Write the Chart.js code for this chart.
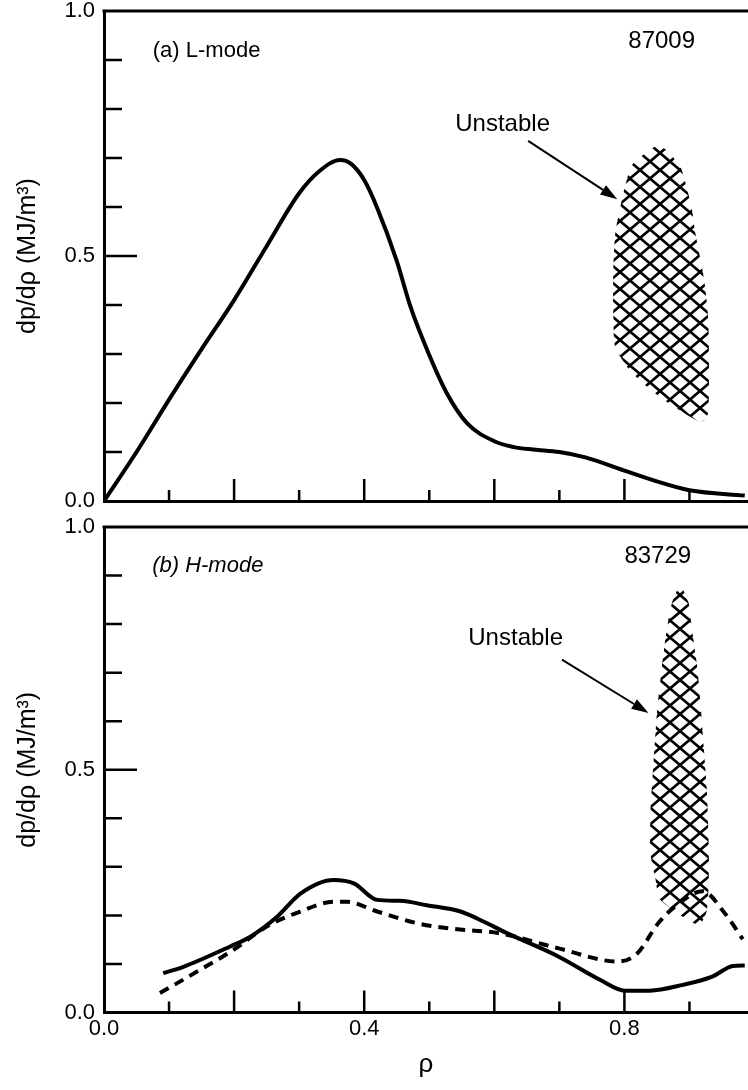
<!DOCTYPE html>
<html lang="en">
<head>
<meta charset="UTF-8">
<title>dp/drho profiles</title>
<script src="https://cdn.jsdelivr.net/npm/chart.js"></script>
<style>
  body { margin: 0; background: #fff; }
  #top { position: absolute; left: 0; top: 0; width: 748px; height: 510px; }
  #bot { position: absolute; left: 0; top: 510px; width: 748px; height: 580px; }
</style>
</head>
<body>
<div id="top"><canvas id="chartA"></canvas></div>
<div id="bot"><canvas id="chartB"></canvas></div>
<script>
// (a) L-mode, shot 87009
const rhoA = [0, 0.05, 0.10, 0.15, 0.20, 0.25, 0.30, 0.33, 0.363, 0.38, 0.40, 0.42, 0.45, 0.471, 0.499, 0.527, 0.558, 0.60, 0.63, 0.66, 0.70, 0.74, 0.80, 0.845, 0.90, 0.985];
const dpA  = [0, 0.10, 0.207, 0.31, 0.41, 0.52, 0.628, 0.672, 0.696, 0.688, 0.655, 0.598, 0.49, 0.397, 0.301, 0.22, 0.159, 0.122, 0.11, 0.105, 0.10, 0.089, 0.062, 0.042, 0.022, 0.011];

// unstable region (a)
const hatchRhoA = [0.85, 0.812, 0.796, 0.786, 0.783, 0.783, 0.786, 0.812, 0.855, 0.917, 0.929, 0.929, 0.922, 0.909, 0.904, 0.896, 0.886, 0.866];
const hatchDpA  = [0.727, 0.686, 0.614, 0.547, 0.471, 0.383, 0.314, 0.261, 0.212, 0.161, 0.18, 0.369, 0.457, 0.547, 0.594, 0.639, 0.682, 0.716];

// (b) H-mode, shot 83729 - solid
const rhoB = [0.091, 0.122, 0.194, 0.225, 0.266, 0.302, 0.353, 0.384, 0.42, 0.455, 0.496, 0.548, 0.584, 0.617, 0.699, 0.763, 0.801, 0.839, 0.89, 0.935, 0.967, 0.985];
const dpB  = [0.081, 0.094, 0.136, 0.156, 0.197, 0.245, 0.273, 0.266, 0.232, 0.23, 0.221, 0.208, 0.187, 0.165, 0.115, 0.067, 0.045, 0.045, 0.057, 0.074, 0.096, 0.097];

// (b) dashed
const rhoBd = [0.086, 0.148, 0.199, 0.25, 0.302, 0.353, 0.373, 0.42, 0.481, 0.532, 0.609, 0.699, 0.79, 0.82, 0.852, 0.884, 0.92, 0.954, 0.982];
const dpBd  = [0.04, 0.088, 0.129, 0.177, 0.208, 0.228, 0.228, 0.208, 0.184, 0.173, 0.163, 0.132, 0.105, 0.122, 0.184, 0.225, 0.25, 0.205, 0.151];

// unstable region (b)
const hatchRhoB = [0.886, 0.873, 0.865, 0.857, 0.85, 0.845, 0.84, 0.84, 0.848, 0.855, 0.914, 0.927, 0.93, 0.927, 0.922, 0.917, 0.912, 0.904, 0.899];
const hatchDpB  = [0.885, 0.843, 0.788, 0.705, 0.616, 0.52, 0.41, 0.328, 0.273, 0.232, 0.18, 0.211, 0.314, 0.451, 0.547, 0.637, 0.712, 0.788, 0.843];

const xTickLabels = [0, 0.4, 0.8];
const yTickLabels = [0, 0.5, 1.0];

const FONT = "'Liberation Sans', Arial, sans-serif";

function pts(xs, ys) { return xs.map((x, i) => ({ x: x, y: ys[i] })); }

function hatchPattern() {
  const w = 20, h = 17;
  const c = document.createElement('canvas');
  c.width = w; c.height = h;
  const g = c.getContext('2d');
  g.strokeStyle = '#000';
  g.lineWidth = 2.7;
  g.beginPath();
  for (const dx of [-w, 0, w]) {
    g.moveTo(dx, 0); g.lineTo(dx + w, h);
    g.moveTo(dx, h); g.lineTo(dx + w, 0);
  }
  g.stroke();
  return g.createPattern(c, 'repeat');
}

// inward ticks, top border, labels and arrows
const frame = {
  id: 'frame',
  afterDraw(chart, args, opts) {
    const { ctx, chartArea: a, scales: { x, y } } = chart;
    ctx.save();
    ctx.strokeStyle = '#000';
    ctx.lineWidth = 3;
    ctx.beginPath();
    ctx.moveTo(a.left - 1.5, a.top); ctx.lineTo(a.right, a.top);
    ctx.stroke();
    ctx.lineWidth = 2.5;
    ctx.beginPath();
    for (let i = 1; i < 10; i++) {
      const px = x.getPixelForValue(i / 10);
      const len = i % 2 === 0 ? 22 : 11;
      ctx.moveTo(px, a.bottom); ctx.lineTo(px, a.bottom - len);
      const py = y.getPixelForValue(i / 10);
      const ylen = i === 5 ? 33 : 18;
      ctx.moveTo(a.left, py); ctx.lineTo(a.left + ylen, py);
    }
    ctx.stroke();

    ctx.fillStyle = '#000';
    ctx.textBaseline = 'middle';
    ctx.textAlign = 'left';
    for (const n of opts.notes) {
      ctx.font = (n.italic ? 'italic ' : '') + n.size + 'px ' + FONT;
      ctx.fillText(n.text, x.getPixelForValue(n.x), y.getPixelForValue(n.y));
    }

    const [x1, y1, x2, y2] = opts.arrow;
    const sx = x.getPixelForValue(x1), sy = y.getPixelForValue(y1);
    const ex = x.getPixelForValue(x2), ey = y.getPixelForValue(y2);
    const ang = Math.atan2(ey - sy, ex - sx);
    const hl = 17, hw = 5.5;
    const bx = ex - hl * Math.cos(ang), by = ey - hl * Math.sin(ang);
    ctx.lineWidth = 2;
    ctx.beginPath();
    ctx.moveTo(sx, sy); ctx.lineTo(bx, by);
    ctx.stroke();
    ctx.beginPath();
    ctx.moveTo(ex, ey);
    ctx.lineTo(bx + hw * Math.sin(ang), by - hw * Math.cos(ang));
    ctx.lineTo(bx - hw * Math.sin(ang), by + hw * Math.cos(ang));
    ctx.closePath();
    ctx.fill();
    ctx.restore();
  }
};

function labelY(v) {
  return yTickLabels.some(t => Math.abs(t - v) < 1e-6) ? v.toFixed(1) : '';
}
function labelX(v) {
  return xTickLabels.some(t => Math.abs(t - v) < 1e-6) ? v.toFixed(1) : '';
}

function makePanel(id, datasets, bottomAxis, padTop, notes, arrow) {
  return new Chart(document.getElementById(id), {
    type: 'scatter',
    data: { datasets: datasets },
    plugins: [frame],
    options: {
      responsive: true,
      maintainAspectRatio: false,
      animation: false,
      events: [],
      layout: { padding: { top: padTop, right: 0, left: 0, bottom: 0 } },
      plugins: {
        legend: { display: false },
        tooltip: { enabled: false },
        frame: { notes: notes, arrow: arrow }
      },
      scales: {
        x: {
          type: 'linear', min: 0, max: 0.99,
          afterFit(s) {
            s.height = bottomAxis ? 77.5 : 9;
            s.paddingLeft = 0; s.paddingRight = 0;
          },
          border: { display: true, width: 3, color: '#000' },
          grid: { display: false, drawTicks: false },
          ticks: {
            display: bottomAxis, stepSize: 0.1, autoSkip: false, maxRotation: 0,
            padding: 3, color: '#000', font: { family: FONT, size: 22 },
            callback: labelX
          },
          title: {
            display: bottomAxis, text: 'ρ', color: '#000',
            font: { family: FONT, size: 26 }, padding: { top: 0, bottom: 10 }
          }
        },
        y: {
          type: 'linear', min: 0, max: 1,
          afterFit(s) {
            s.width = 104;
            s.paddingTop = 0; s.paddingBottom = 0;
          },
          border: { display: true, width: 3, color: '#000' },
          grid: { display: false, drawTicks: false },
          ticks: {
            stepSize: 0.1, autoSkip: false, padding: 9, color: '#000',
            font: { family: FONT, size: 22 }, callback: labelY
          },
          title: {
            display: true, text: 'dp/dρ (MJ/m³)', color: '#000',
            font: { family: FONT, size: 25 }, padding: { top: 13, bottom: 0 }
          }
        }
      }
    }
  });
}

const pat = hatchPattern();
const curve = { borderColor: '#000', borderWidth: 4, pointRadius: 0, showLine: true, fill: false, cubicInterpolationMode: 'monotone' };
const region = { borderColor: 'rgba(0,0,0,0)', borderWidth: 1, pointRadius: 0, showLine: true, fill: 'shape', backgroundColor: pat, tension: 0.2 };

makePanel('chartA', [
  Object.assign({ label: 'unstable', data: pts(hatchRhoA, hatchDpA) }, region),
  Object.assign({ label: 'L-mode', data: pts(rhoA, dpA) }, curve)
], false, 11,
  [{ text: '(a) L-mode', x: 0.075, y: 0.918, size: 22 },
   { text: '87009', x: 0.806, y: 0.937, size: 24 },
   { text: 'Unstable', x: 0.54, y: 0.769, size: 24 }],
  [0.652, 0.735, 0.789, 0.616]);

makePanel('chartB', [
  Object.assign({ label: 'unstable', data: pts(hatchRhoB, hatchDpB) }, region),
  Object.assign({ label: 'H-mode', data: pts(rhoB, dpB) }, curve),
  Object.assign({ label: 'H-mode dashed', data: pts(rhoBd, dpBd), borderDash: [10, 7] }, curve)
], true, 17,
  [{ text: '(b) H-mode', x: 0.074, y: 0.92, italic: true, size: 22 },
   { text: '83729', x: 0.8, y: 0.939, size: 24 },
   { text: 'Unstable', x: 0.56, y: 0.77, size: 24 }],
  [0.704, 0.727, 0.837, 0.617]);
</script>
</body>
</html>
